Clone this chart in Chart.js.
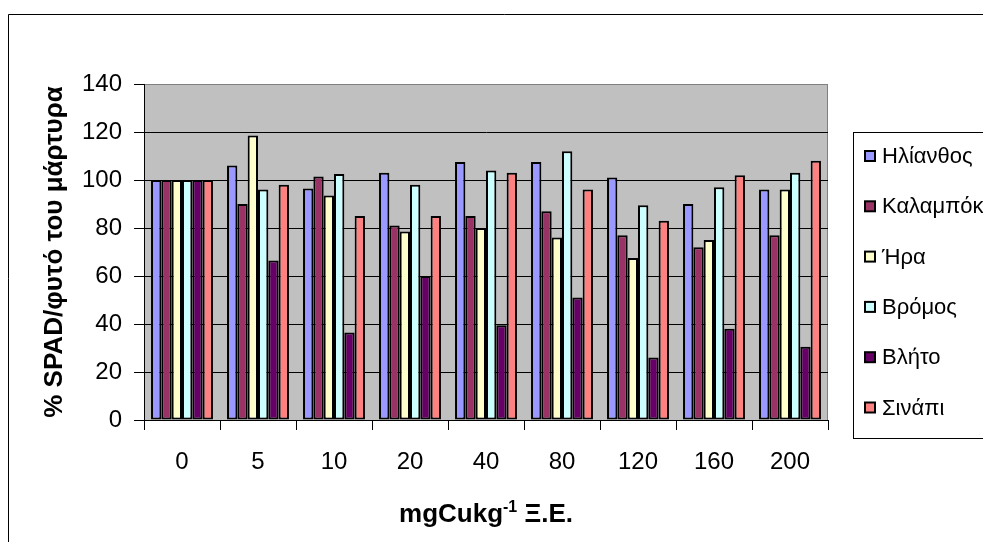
<!DOCTYPE html>
<html>
<head>
<meta charset="utf-8">
<script src="https://cdn.jsdelivr.net/npm/chart.js@4.4.1/dist/chart.umd.min.js"></script>
<style>
  html, body { margin: 0; padding: 0; background: #ffffff; overflow: hidden; }
  #wrap { position: relative; width: 1000px; height: 542px; }
</style>
</head>
<body>
<div id="wrap"><canvas id="chart"></canvas></div>
<script>
// Copper dose (mg Cu per kg dry soil) on the category axis
const categories = ['0', '5', '10', '20', '40', '80', '120', '160', '200'];

// SPAD reading of each plant species as % of its control
const ilianthos = [100, 106, 96.5, 103, 107.5, 107.5, 101, 90, 96];
const kalampoki = [100, 90, 101.5, 81, 85, 87, 77, 72, 77];
const ira       = [100, 118.5, 93.5, 78.5, 80, 76, 67.5, 75, 96];
const vromos    = [100, 96, 102.5, 98, 104, 112, 89.5, 97, 103];
const vlito     = [100, 66.5, 36.5, 60, 39.5, 51, 26, 38, 30.5];
const sinapi    = [100, 98, 85, 85, 103, 96, 83, 102, 108];

const speciesNames = ['Ηλίανθος', 'Καλαμπόκι', 'Ήρα', 'Βρόμος', 'Βλήτο', 'Σινάπι'];
const speciesValues = [ilianthos, kalampoki, ira, vromos, vlito, sinapi];
const speciesColors = ['#9999FF', '#993366', '#FFFFCC', '#CCFFFF', '#660066', '#FF8080'];

const yTicks = [0, 20, 40, 60, 80, 100, 120, 140];

const FONT = '"Liberation Sans", Arial, sans-serif';

// grey plot panel with a thin grey frame
const plotPanel = {
  id: 'plotPanel',
  beforeDraw(chart) {
    const { ctx, chartArea: a } = chart;
    ctx.save();
    ctx.fillStyle = '#C0C0C0';
    ctx.fillRect(a.left, a.top, a.right - a.left, a.bottom - a.top);
    ctx.strokeStyle = '#808080';
    ctx.lineWidth = 1;
    ctx.strokeRect(a.left + 0.5, a.top + 0.5, a.right - a.left - 1, a.bottom - a.top);
    ctx.restore();
  }
};

// outer frame, legend box and the x-axis title with its superscript
const decorations = {
  id: 'decorations',
  afterDraw(chart) {
    const { ctx, chartArea: a } = chart;
    ctx.save();
    // outer chart frame (left and top edges visible)
    ctx.strokeStyle = '#000000';
    ctx.lineWidth = 1;
    ctx.beginPath();
    ctx.moveTo(8.5, 560);
    ctx.lineTo(8.5, 14.5);
    ctx.lineTo(1100, 14.5);
    ctx.stroke();

    // legend
    const lx = 853, ly = 132, lh = 306;
    ctx.strokeRect(lx + 0.5, ly + 0.5, 300, lh);
    ctx.font = '22px ' + FONT;
    ctx.textBaseline = 'middle';
    ctx.textAlign = 'left';
    chart.data.datasets.forEach((ds, i) => {
      const cy = 156 + i * 50.3;
      ctx.fillStyle = ds.backgroundColor;
      ctx.fillRect(865, cy - 5, 10, 10);
      ctx.lineWidth = 2;
      ctx.strokeStyle = '#000000';
      ctx.strokeRect(865, cy - 5, 10, 10);
      ctx.fillStyle = '#000000';
      ctx.fillText(ds.label, 882, cy + 1);
    });

    // x-axis title: mgCukg^-1 Ξ.Ε.
    const big = 'bold 26px ' + FONT;
    const small = 'bold 16px ' + FONT;
    const p1 = 'mgCukg', p2 = '-1', p3 = ' Ξ.Ε.';
    ctx.font = big; const w1 = ctx.measureText(p1).width, w3 = ctx.measureText(p3).width;
    ctx.font = small; const w2 = ctx.measureText(p2).width;
    const total = w1 + w2 + w3;
    let x = (a.left + a.right) / 2 - total / 2;
    const base = 522;
    ctx.textBaseline = 'alphabetic';
    ctx.fillStyle = '#000000';
    ctx.font = big; ctx.fillText(p1, x, base); x += w1;
    ctx.font = small; ctx.fillText(p2, x, base - 10); x += w2;
    ctx.font = big; ctx.fillText(p3, x, base);
    ctx.restore();
  }
};

new Chart(document.getElementById('chart'), {
  type: 'bar',
  data: {
    labels: categories,
    datasets: speciesNames.map((name, i) => ({
      label: name,
      data: speciesValues[i],
      backgroundColor: speciesColors[i],
      borderColor: '#000000',
      borderWidth: 2,
      borderSkipped: false,
      categoryPercentage: 0.815,
      barPercentage: 1.0
    }))
  },
  options: {
    responsive: true,
    maintainAspectRatio: false,
    animation: false,
    events: [],
    layout: { padding: { left: 0, top: 84, right: 172, bottom: 0 } },
    plugins: {
      legend: { display: false },
      tooltip: { enabled: false }
    },
    scales: {
      x: {
        afterFit(scale) { scale.height = 122; },
        grid: {
          offset: true,
          drawOnChartArea: false,
          drawTicks: true,
          tickLength: 10,
          color: '#000000',
          tickColor: '#000000'
        },
        border: { display: true, color: '#000000', width: 1 },
        ticks: {
          padding: 18,
          color: '#000000',
          font: { family: FONT, size: 24 },
          maxRotation: 0
        }
      },
      y: {
        min: 0,
        max: 140,
        afterFit(scale) { scale.width = 144; },
        afterBuildTicks(scale) { scale.ticks = yTicks.map(v => ({ value: v })); },
        grid: {
          color: ctx => (ctx.tick && ctx.tick.value === 140 ? '#808080' : '#000000'),
          tickColor: '#000000',
          tickLength: 10,
          lineWidth: 1
        },
        border: { display: true, color: '#000000', width: 1 },
        ticks: {
          padding: 12,
          color: '#000000',
          font: { family: FONT, size: 24 }
        },
        title: {
          display: true,
          text: '% SPAD/φυτό του μάρτυρα',
          color: '#000000',
          font: { family: FONT, size: 26, weight: 'bold' },
          padding: { top: 39, bottom: 0 }
        }
      }
    }
  },
  plugins: [plotPanel, decorations]
});
</script>
</body>
</html>
